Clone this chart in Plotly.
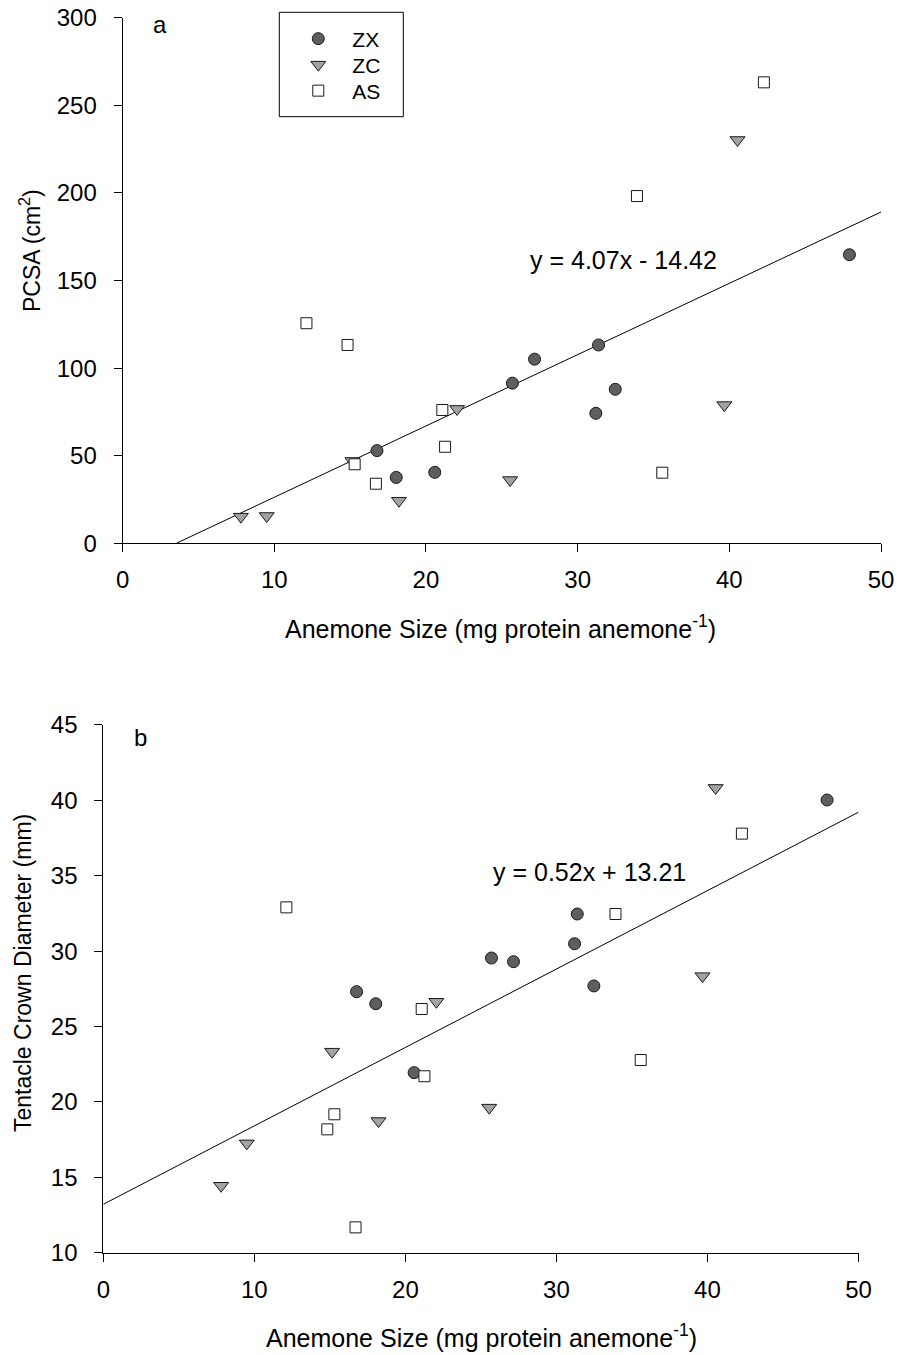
import plotly.graph_objects as go

# Anemone size (mg protein anemone^-1) for each host group
zx_size = [16.77, 18.04, 20.58, 25.70, 27.16, 31.20, 31.38, 32.48, 47.92]
zc_size = [7.80, 9.50, 15.15, 18.22, 22.05, 25.55, 39.67, 40.54]
as_size = [12.12, 14.83, 15.30, 16.70, 21.08, 21.26, 33.91, 35.58, 42.28]

# Panel a: PCSA (cm^2)
zx_pcsa = [52.9, 37.6, 40.5, 91.4, 105.1, 74.2, 113.2, 87.9, 164.7]
zc_pcsa = [15.2, 15.6, 47.0, 24.3, 76.7, 36.1, 78.9, 230.2]
as_pcsa = [125.6, 113.2, 45.1, 34.0, 76.1, 55.1, 198.2, 40.3, 263.1]

# Panel b: tentacle crown diameter (mm)
zx_tcd = [27.31, 26.51, 21.94, 29.54, 29.30, 30.49, 32.46, 27.69, 40.02]
zc_tcd = [14.44, 17.25, 23.33, 18.73, 26.64, 19.62, 28.34, 40.82]
as_tcd = [32.90, 18.18, 19.18, 11.68, 26.16, 21.70, 32.46, 22.78, 37.79]

# Linear fits (slope, intercept)
fit_a = (4.07, -14.42)
fit_b = (0.52, 13.21)

x_ticks = [0, 10, 20, 30, 40, 50]
ya_ticks = [0, 50, 100, 150, 200, 250, 300]
yb_ticks = [10, 15, 20, 25, 30, 35, 40, 45]

W, H = 897, 1355
FONT = "Liberation Sans, Arial, sans-serif"


def fx(p):
    return p / W


def fy(p):
    return 1 - p / H


fig = go.Figure()

# regression line, panel a: from the x-intercept to x = 50
xa0 = -fit_a[1] / fit_a[0]
xa = [xa0, 50]
fig.add_trace(go.Scatter(x=xa, y=[fit_a[0] * v + fit_a[1] for v in xa], mode="lines",
                         line=dict(color="black", width=1), showlegend=False,
                         hoverinfo="skip", xaxis="x", yaxis="y"))
# regression line, panel b: over the whole x range
xb = [0, 50]
fig.add_trace(go.Scatter(x=xb, y=[fit_b[0] * v + fit_b[1] for v in xb], mode="lines",
                         line=dict(color="black", width=1), showlegend=False,
                         hoverinfo="skip", xaxis="x2", yaxis="y2"))

groups = [
    ("ZX", zx_size, zx_pcsa, zx_tcd, "circle", "#5e5e5e", 12, "legend"),
    ("ZC", zc_size, zc_pcsa, zc_tcd, "triangle-down", "#a2a2a2", 13, "legend2"),
    ("AS", as_size, as_pcsa, as_tcd, "square", "white", 11, "legend3"),
]

for name, sx, ya, yb, sym, col, sz, leg in groups:
    mk = dict(symbol=sym, color=col, size=sz, line=dict(color="#1a1a1a", width=1))
    fig.add_trace(go.Scatter(x=sx, y=ya, mode="markers", name=name, marker=mk,
                             legend=leg, xaxis="x", yaxis="y"))
    fig.add_trace(go.Scatter(x=sx, y=yb, mode="markers", name=name, marker=mk,
                             showlegend=False, xaxis="x2", yaxis="y2"))

axis_common = dict(
    showline=True, linecolor="black", linewidth=1, mirror=False,
    ticks="outside", ticklen=8, tickwidth=1, tickcolor="black",
    showgrid=False, zeroline=False, automargin=False,
    tickfont=dict(family=FONT, size=24, color="black"),
)

fig.update_layout(
    width=W, height=H, autosize=False,
    margin=dict(l=0, r=0, t=0, b=0),
    paper_bgcolor="white", plot_bgcolor="white",
    font=dict(family=FONT, color="black"),
    xaxis=dict(domain=[fx(122.6), fx(881)], range=[0, 50], tickvals=x_ticks,
               anchor="y", ticklabelstandoff=7, **axis_common),
    yaxis=dict(domain=[fy(543.3), fy(17.7)], range=[0, 300], tickvals=ya_ticks,
               anchor="x", ticklabelstandoff=12, **axis_common),
    xaxis2=dict(domain=[fx(103.3), fx(858.5)], range=[0, 50], tickvals=x_ticks,
                anchor="y2", ticklabelstandoff=7, **axis_common),
    yaxis2=dict(domain=[fy(1252.7), fy(724.9)], range=[10, 45], tickvals=yb_ticks,
                anchor="x2", ticklabelstandoff=12, **axis_common),
)

leg_common = dict(bgcolor="rgba(0,0,0,0)", borderwidth=0, itemwidth=58,
                  xanchor="left", yanchor="middle",
                  font=dict(family=FONT, size=21, color="black"))
fig.update_layout(
    legend=dict(x=fx(284.3), y=fy(39), **leg_common),
    legend2=dict(x=fx(284.3), y=fy(65), **leg_common),
    legend3=dict(x=fx(284.3), y=fy(91), **leg_common),
)

# legend frame
fig.add_shape(type="rect", xref="paper", yref="paper",
              x0=fx(279.3), x1=fx(403.3), y0=fy(116.7), y1=fy(12.3),
              line=dict(color="black", width=1))


def note(text, x, y, size=25, angle=0):
    fig.add_annotation(text=text, x=fx(x), y=fy(y), xref="paper", yref="paper",
                       showarrow=False, xanchor="center", yanchor="middle",
                       textangle=angle, font=dict(family=FONT, size=size, color="black"))


note("a", 160, 25, size=24)
note("b", 140, 737, size=24)
note("y = 4.07x - 14.42", 623.5, 260)
note("y = 0.52x + 13.21", 589, 872)
note("Anemone Size (mg protein anemone<sup>-1</sup>)", 500, 627)
note("Anemone Size (mg protein anemone<sup>-1</sup>)", 481, 1336)
note("PCSA (cm<sup>2</sup>)", 30, 251, size=23, angle=-90)
note("Tentacle Crown Diameter (mm)", 23, 973, size=23, angle=-90)

fig.write_html("out.html")
